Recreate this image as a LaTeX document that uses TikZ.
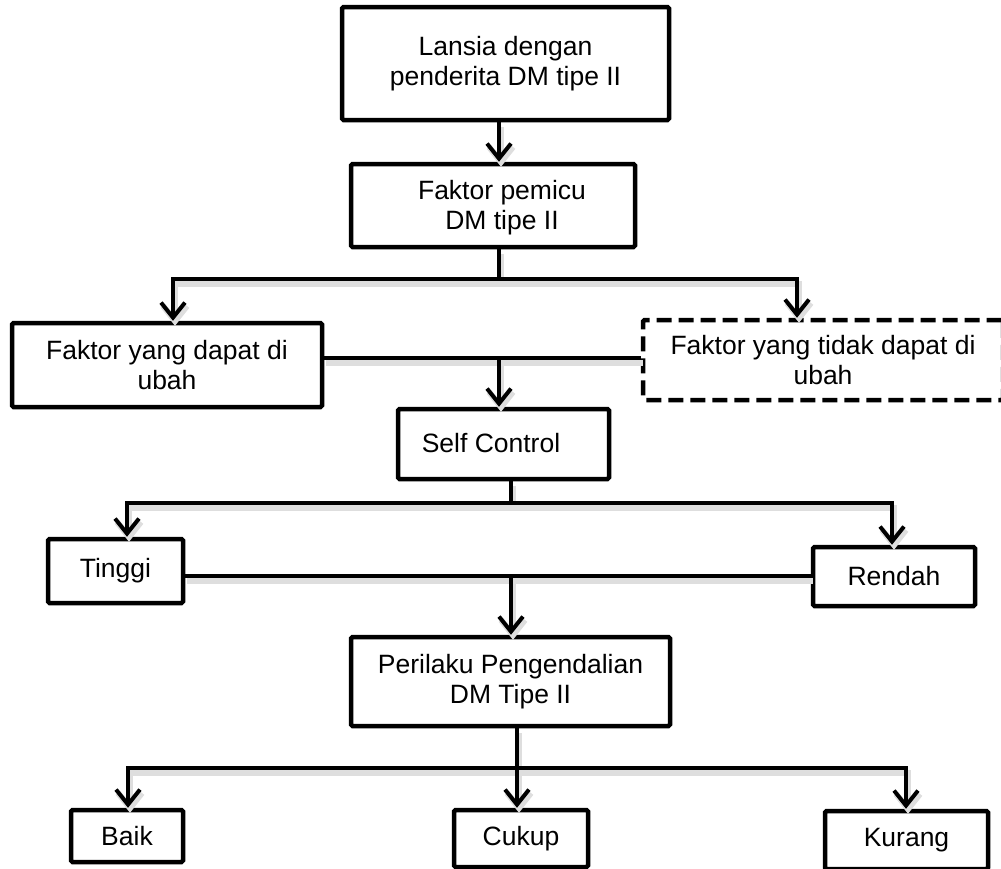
\documentclass[tikz,border=0pt]{standalone}
\usepackage{fontspec}
\setmainfont{Liberation Sans}
\usetikzlibrary{arrows.meta}
\begin{document}
\begin{tikzpicture}[x=1pt,y=-1pt,
  box/.style={draw, line width=4.5pt, fill=white, rounded corners=1.5pt, inner sep=0pt, align=center, font=\fontsize{26.5}{30}\selectfont},
  dbox/.style={box, dash pattern=on 15pt off 7pt},
  txt/.style={inner sep=0pt, align=center, font=\fontsize{26.5}{30}\selectfont},
  conn/.style={line width=4pt, preaction={draw=black!13, line width=6pt, transform canvas={shift={(2pt,-5pt)}}}},
  arr/.style={conn, -{Straight Barb[length=15pt,width=24pt]}},
]
\useasboundingbox (0,0) rectangle (1001,868);

\node[box, minimum width=327pt, minimum height=113pt] (b1) at (505.5,63.5) {Lansia dengan\\penderita DM tipe II};
\node[box, minimum width=284pt, minimum height=83pt] (b2) at (493,205.5) {};
\node[txt] (b2t) at (502,208) {Faktor pemicu\\DM tipe II};
\node[box, minimum width=310pt, minimum height=84pt] (b3) at (167,365) {Faktor yang dapat di\\ubah};
\node[dbox, minimum width=360pt, minimum height=80pt] (b4) at (823,360) {Faktor yang tidak dapat di\\ubah};
\node[box, minimum width=211pt, minimum height=70pt] (b5) at (503.5,444) {};
\node[txt] (b5t) at (491,443) {Self Control};
\node[box, minimum width=135pt, minimum height=64pt] (b6) at (115.5,571) {Tinggi};
\node[box, minimum width=162pt, minimum height=59pt] (b7) at (894,576.5) {Rendah};
\node[box, minimum width=319pt, minimum height=89pt] (b8) at (510.5,681.5) {Perilaku Pengendalian\\DM Tipe II};
\node[box, minimum width=112pt, minimum height=52pt] (b9) at (127,836) {Baik};
\node[box, minimum width=134pt, minimum height=57pt] (b10) at (521,838.5) {Cukup};
\node[box, minimum width=163pt, minimum height=58pt] (b11) at (906.5,840) {Kurang};

\coordinate (j1) at (499,279);
\coordinate (j2) at (499,358);
\coordinate (j3) at (511,503);
\coordinate (j4) at (511,576);
\coordinate (j5) at (517,768);

\draw[arr] (b1.south -| j1) -- (b2.north -| j1);
\draw[conn] (b2.south -| j1) -- (j1);
\draw[arr] (j1) -| ([xshift=6pt]b3.north);
\draw[arr] (j1) -| ([xshift=-26pt]b4.north);
\draw[conn] (b3.east |- j2) -- (b4.west |- j2);
\draw[arr] (j2) -- (b5.north -| j2);
\draw[conn] (b5.south -| j3) -- (j3);
\draw[arr] (j3) -| ([xshift=11.5pt]b6.north);
\draw[arr] (j3) -| ([xshift=-2pt]b7.north);
\draw[conn] (b6.east |- j4) -- (b7.west |- j4);
\draw[arr] (j4) -- (b8.north -| j4);
\draw[conn] (b8.south -| j5) -- (j5);
\draw[arr] (j5) -| ([xshift=1pt]b9.north);
\draw[arr] (j5) -- (b10.north -| j5);
\draw[arr] (j5) -| ([xshift=-0.5pt]b11.north);
\end{tikzpicture}
\end{document}
